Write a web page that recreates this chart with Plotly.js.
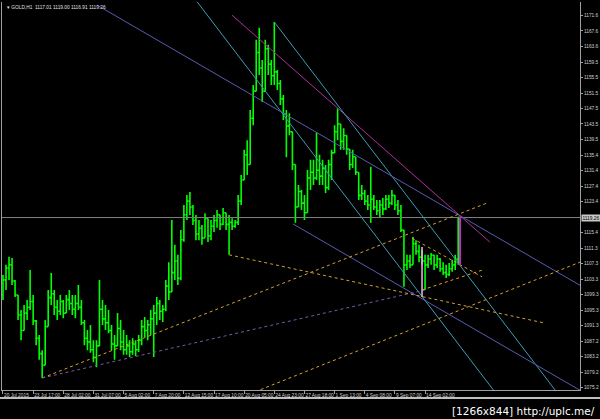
<!DOCTYPE html>
<html><head><meta charset="utf-8">
<script src="https://cdn.plot.ly/plotly-3.0.1.min.js"></script>
<style>html,body{margin:0;padding:0;background:#000;}#chart{width:600px;height:419px;}</style>
</head><body><div id="chart"></div>
<script>
// ---- price bars (GOLD, H1) sampled along the chart ----
const barOpen = [1099.2,1103.1,1106.2,1107.0,1102.8,1099.2,1094.0,1090.0,1094.5,1096.0,
1097.5,1092.5,1088.0,1084.0,1081.0,1091.0,1098.5,1099.5,1096.0,1095.0,
1097.5,1094.5,1098.0,1097.0,1095.5,1097.0,1096.0,1092.0,1088.0,1087.0,
1085.0,1083.0,1086.0,1095.5,1093.0,1092.0,1090.0,1086.5,1086.0,1090.5,
1087.0,1085.0,1086.0,1084.5,1086.5,1085.0,1087.5,1091.0,1090.0,1091.5,
1093.0,1094.5,1097.0,1095.0,1095.5,1101.5,1100.0,1105.0,1108.0,1103.5,
1113.5,1120.0,1123.5,1122.0,1118.5,1115.0,1116.5,1114.0,1119.0,1114.5,
1117.0,1118.5,1120.0,1117.5,1120.5,1117.5,1118.0,1117.0,1118.0,1123.5,
1129.0,1135.5,1133.0,1145.0,1152.0,1162.0,1158.0,1152.0,1163.0,1159.0,
1156.0,1157.0,1154.0,1150.0,1146.0,1143.0,1141.5,1133.0,1122.0,1126.0,
1123.0,1120.5,1129.5,1131.0,1129.5,1131.5,1130.0,1132.0,1127.0,1133.0,
1136.0,1141.5,1143.5,1139.0,1140.5,1137.0,1133.0,1135.0,1131.0,1125.0,
1125.5,1123.5,1122.5,1124.0,1122.0,1121.0,1122.5,1121.5,1124.0,1123.0,
1125.0,1122.5,1121.0,1116.0,1107.0,1108.0,1107.0,1112.5,1110.5,1109.0,
1108.0,1107.0,1108.5,1109.5,1107.0,1108.5,1106.0,1105.0,1104.5,1106.0,
1107.0,1108.5];
const barHigh = [1104.4,1107.0,1109.1,1108.8,1103.1,1099.2,1095.3,1096.6,1097.9,1105.7,
1099.2,1092.7,1088.8,1084.9,1092.7,1100.5,1104.9,1100.5,1097.9,1099.2,
1097.9,1099.2,1100.5,1099.2,1099.2,1101.8,1097.9,1092.7,1090.1,1091.4,
1087.5,1087.5,1103.1,1097.9,1096.6,1095.3,1091.4,1088.8,1094.5,1092.7,
1090.1,1088.8,1087.5,1088.0,1087.5,1088.8,1092.7,1093.5,1092.7,1095.3,
1096.6,1098.7,1097.9,1096.6,1103.1,1107.7,1118.6,1112.2,1109.6,1116.0,
1122.5,1125.1,1125.9,1122.5,1119.9,1118.6,1117.3,1120.4,1119.0,1118.6,
1119.9,1121.2,1120.0,1121.7,1120.5,1119.9,1119.1,1118.6,1125.1,1130.3,
1136.8,1139.3,1147.1,1153.6,1165.3,1168.4,1160.1,1165.3,1164.0,1160.1,
1169.9,1157.5,1154.9,1151.0,1147.1,1146.3,1141.5,1133.0,1127.7,1126.4,
1125.1,1131.6,1134.2,1134.2,1141.2,1135.5,1134.2,1132.9,1134.2,1136.8,
1143.2,1147.6,1143.5,1142.4,1140.6,1137.0,1136.8,1135.0,1131.0,1127.7,
1126.4,1125.1,1132.4,1125.1,1123.8,1123.8,1124.3,1125.1,1125.1,1126.4,
1125.1,1123.8,1122.5,1116.0,1109.6,1109.6,1114.2,1113.4,1112.2,1110.9,
1109.6,1109.6,1110.1,1109.6,1109.6,1108.8,1107.7,1107.0,1107.5,1108.3,
1109.6,1119.4];
const barLow = [1097.9,1100.5,1103.1,1101.8,1098.7,1092.7,1087.5,1090.0,1092.7,1095.3,
1091.4,1086.2,1082.4,1077.7,1081.0,1091.0,1096.6,1094.0,1092.7,1094.0,
1093.2,1094.5,1095.3,1094.0,1093.2,1095.3,1091.4,1086.2,1084.9,1084.2,
1081.8,1080.5,1086.0,1091.4,1090.1,1089.3,1084.9,1082.4,1086.0,1084.9,
1083.7,1083.7,1083.1,1083.7,1083.4,1084.4,1086.2,1088.3,1087.5,1088.8,
1083.1,1091.4,1092.7,1092.2,1095.0,1097.9,1100.0,1103.1,1101.8,1103.0,
1113.0,1118.6,1119.9,1117.3,1113.4,1113.4,1112.2,1114.0,1112.9,1113.4,
1115.5,1116.6,1116.0,1117.3,1116.0,1109.6,1116.0,1116.6,1117.3,1122.5,
1129.0,1130.3,1133.0,1143.2,1152.0,1156.2,1149.2,1152.0,1156.2,1153.6,
1153.6,1152.3,1148.4,1144.5,1134.9,1140.6,1131.6,1117.9,1122.0,1121.2,
1118.6,1120.5,1126.4,1127.7,1129.0,1127.7,1127.7,1125.6,1126.4,1129.0,
1136.0,1139.3,1136.8,1136.8,1135.5,1131.6,1132.1,1130.3,1123.8,1123.8,
1122.5,1121.2,1117.9,1121.2,1119.9,1119.4,1119.9,1121.2,1121.7,1122.5,
1121.2,1119.9,1115.5,1101.3,1105.7,1106.2,1107.0,1109.6,1107.7,1107.0,
1100.5,1106.2,1107.0,1105.7,1106.2,1105.2,1104.4,1103.6,1104.1,1105.2,
1105.7,1107.0];
const barClose = [1103.1,1106.2,1107.0,1102.8,1099.2,1094.0,1090.0,1094.5,1096.0,1097.5,
1092.5,1088.0,1084.0,1081.0,1091.0,1098.5,1099.5,1096.0,1095.0,1097.5,
1094.5,1098.0,1097.0,1095.5,1097.0,1096.0,1092.0,1088.0,1087.0,1085.0,
1083.0,1086.0,1095.5,1093.0,1092.0,1090.0,1086.5,1086.0,1090.5,1087.0,
1085.0,1086.0,1084.5,1086.5,1085.0,1087.5,1091.0,1090.0,1091.5,1093.0,
1094.5,1097.0,1095.0,1095.5,1101.5,1100.0,1105.0,1108.0,1103.5,1113.5,
1120.0,1123.5,1122.0,1118.5,1115.0,1116.5,1114.0,1119.0,1114.5,1117.0,
1118.5,1120.0,1117.5,1120.5,1117.5,1118.0,1117.0,1118.0,1123.5,1129.0,
1135.5,1133.0,1145.0,1152.0,1162.0,1158.0,1152.0,1163.0,1159.0,1156.0,
1157.0,1154.0,1150.0,1146.0,1143.0,1141.5,1133.0,1122.0,1126.0,1123.0,
1120.5,1129.5,1131.0,1129.5,1131.5,1130.0,1132.0,1127.0,1133.0,1136.0,
1141.5,1143.5,1139.0,1140.5,1137.0,1133.0,1135.0,1131.0,1125.0,1125.5,
1123.5,1122.5,1124.0,1122.0,1121.0,1122.5,1121.5,1124.0,1123.0,1125.0,
1122.5,1121.0,1116.0,1107.0,1108.0,1107.0,1112.5,1110.5,1109.0,1108.0,
1107.0,1108.5,1109.5,1107.0,1108.5,1106.0,1105.0,1104.5,1106.0,1107.0,
1108.5,1119.3];

// ---- time axis labels (bar positions) ----
const timeTickBars = [0,10,20,30,40,50,60,70,80,90,100,110,120,130,140];
const timeTickText = ["20 Jul 2015","23 Jul 17:00","28 Jul 02:00","31 Jul 07:00","5 Aug 02:00",
"7 Aug 20:00","12 Aug 15:00","17 Aug 10:00","20 Aug 05:00","24 Aug 23:00","27 Aug 18:00",
"1 Sep 13:00","4 Sep 08:00","9 Sep 07:00","14 Sep 02:00"];

// ---- price axis labels ----
const priceTicks = [1171.6,1167.6,1163.6,1159.5,1155.5,1151.5,1147.5,1143.5,1139.5,1135.4,
1131.4,1127.4,1123.4,1115.4,1111.3,1107.3,1103.3,1099.3,1095.3,1091.3,1087.2,1083.2,1079.2,1075.2];
const priceTickText = ["1171.6","1167.6","1163.6","1159.5","1155.5","1151.5","1147.5","1143.5","1139.5","1135.4",
"1131.4","1127.4","1123.4","1115.4","1111.3","1107.3","1103.3","1099.3","1095.3","1091.3","1087.2","1083.2","1079.2","1075.2"];

// ---- header values ----
const symbolName = "GOLD,H1";
const lastOHLC = ["1117.01","1119.00","1116.91","1119.26"];
const lastPrice = 1119.26;

// ---- drawn objects: start/end bar & price ----
const objNames = ["magentaTrend","cyanUpper","cyanLower","slateUpper","slateLower",
"orangeUp","purpleDot","orangeDown","orangeChannel","triUpper","triLower","pinkVertical","magentaVertical"];
const objBar0   = [75.95, 90.0, 62.0, 31.2, 96.2, 13.0, 13.0, 75.0, 83.6, 135.7, 139.0, 139.0, 151.6];
const objPrice0 = [1171.7,1169.9,1177.6,1174.3,1117.6,1077.7,1077.7,1109.6,1074.1,1113.9,1100.5,1111.6,1119.4];
const objBar1   = [161.5, 184.0, 165.0, 191.4, 191.4, 160.5, 140.0, 179.8, 191.4, 158.9, 159.2, 139.0, 151.6];
const objPrice1 = [1112.9,1073.7,1072.2,1101.7,1074.5,1123.0,1100.5,1091.9,1107.7,1103.9,1105.7,1098.7,1107.0];

// styles (not data)
const objStyle = [
 {color:'#b0309a', width:1, dash:'solid'},
 {color:'#3c9cb4', width:1, dash:'solid'},
 {color:'#3c9cb4', width:1, dash:'solid'},
 {color:'#5a5ab4', width:1, dash:'solid'},
 {color:'#5a5ab4', width:1, dash:'solid'},
 {color:'#d8a030', width:1, dash:'dot'},
 {color:'#7a5aa8', width:1, dash:'dot'},
 {color:'#d8a030', width:1, dash:'dot'},
 {color:'#d8a030', width:1, dash:'dot'},
 {color:'#d8a030', width:1, dash:'dot'},
 {color:'#d8a030', width:1, dash:'dot'},
 {color:'#e8b8e8', width:1.5, dash:'solid'},
 {color:'#d020d0', width:2, dash:'solid'}
];

const barIndex = barClose.map((_, i) => i);
const xMin = -0.33, xMax = 191.4;
const yMin = 1074.58, yMax = 1175.1;

const traces = [];
traces.push({
  type:'scatter', mode:'lines', x:[xMin, xMax], y:[lastPrice, lastPrice],
  line:{color:'#808080', width:1}, hoverinfo:'skip', showlegend:false
});
objNames.forEach((n, k) => {
  if (k === objNames.length - 1) return;
  traces.push({
    type:'scatter', mode:'lines', name:n,
    x:[objBar0[k], objBar1[k]], y:[objPrice0[k], objPrice1[k]],
    line:objStyle[k], hoverinfo:'skip', showlegend:false
  });
});
traces.push({
  type:'ohlc', x:barIndex, open:barOpen, high:barHigh, low:barLow, close:barClose,
  increasing:{line:{color:'#00ff00', width:1.6}},
  decreasing:{line:{color:'#00ff00', width:1.6}},
  tickwidth:0.5, hoverinfo:'skip', showlegend:false
});
{
  const k = objNames.length - 1;
  traces.push({
    type:'scatter', mode:'lines', name:objNames[k],
    x:[objBar0[k], objBar1[k]], y:[objPrice0[k], objPrice1[k]],
    line:objStyle[k], hoverinfo:'skip', showlegend:false
  });
}

const axFont = {family:'Liberation Sans, Arial, sans-serif', size:4.8, color:'#d0d0d0'};
const layout = {
  width:600, height:419,
  margin:{l:2, r:20, t:2, b:29, pad:0},
  paper_bgcolor:'#000', plot_bgcolor:'#000',
  showlegend:false,
  xaxis:{
    range:[xMin, xMax], autorange:false, fixedrange:true,
    rangeslider:{visible:false},
    tickvals:timeTickBars, ticktext:timeTickText,
    ticklabelposition:'outside right',
    ticks:'outside', ticklen:3, tickcolor:'#a0a0a0', tickwidth:1,
    showline:true, linecolor:'#a0a0a0', linewidth:1,
    showgrid:false, zeroline:false, tickfont:axFont, tickangle:0
  },
  yaxis:{
    range:[yMin, yMax], autorange:false, fixedrange:true, side:'right',
    tickvals:priceTicks, ticktext:priceTickText,
    ticks:'outside', ticklen:2, tickcolor:'#a0a0a0', tickwidth:1,
    showline:true, mirror:true, linecolor:'#a0a0a0', linewidth:1,
    showgrid:false, zeroline:false, tickfont:axFont
  },
  shapes:[
    {type:'line', xref:'paper', yref:'paper', x0:-0.01, x1:1.05, y0:-0.0206, y1:-0.0206,
     line:{color:'#ffffff', width:1.5}}
  ],
  annotations:[
    {xref:'paper', yref:'paper', x:0.006, y:0.987, xanchor:'left', yanchor:'middle', showarrow:false,
     text:'\u25BE ' + symbolName + '  ' + lastOHLC.join(' '),
     font:{family:'Liberation Sans, Arial, sans-serif', size:4.8, color:'#e0e0e0'}},
    {xref:'paper', yref:'y', x:1, y:lastPrice, xanchor:'left', yanchor:'middle', xshift:1, showarrow:false,
     text:lastPrice.toFixed(2), bgcolor:'#c8c8c8', borderpad:0.5,
     font:{family:'Liberation Sans, Arial, sans-serif', size:4.8, color:'#000'}},
    {xref:'paper', yref:'paper', x:1.0294, y:-0.054, xanchor:'right', yanchor:'middle', showarrow:false,
     text:'[1266x844] http://uplc.me/',
     font:{family:'DejaVu Sans, sans-serif', size:10.5, color:'#ffffff'}}
  ]
};
Plotly.newPlot('chart', traces, layout, {staticPlot:true, displayModeBar:false});
</script>
</body></html>
